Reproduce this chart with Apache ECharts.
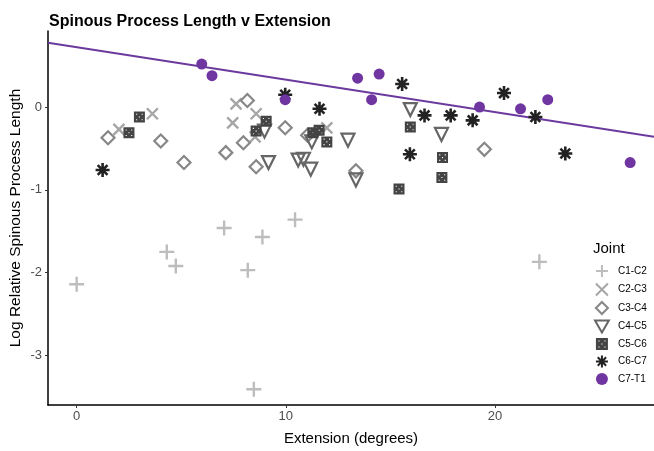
<!DOCTYPE html>
<html>
<head>
<meta charset="utf-8">
<script src="https://cdn.jsdelivr.net/npm/echarts@6/dist/echarts.min.js"></script>
<style>
  html, body { margin: 0; padding: 0; background: #fff; }
  #main { width: 654px; height: 451px; }
</style>
</head>
<body>
<div id="main"></div>
<script>
// values: [extension, log relative length]
var c1c2 = [[0, -2.14], [4.31, -1.75], [4.74, -1.92], [7.05, -1.46], [8.18, -1.97],
  [8.88, -1.57], [10.44, -1.36], [8.47, -3.41], [22.12, -1.87]];
var c2c3 = [[2.02, -0.27], [3.62, -0.08], [7.62, 0.04], [7.46, -0.19], [8.58, -0.08],
  [8.53, -0.36], [11.96, -0.25]];
var c3c4 = [[1.5, -0.37], [4.02, -0.41], [5.13, -0.67], [7.13, -0.55], [7.97, -0.43],
  [8.16, 0.08], [8.58, -0.72], [9.97, -0.25], [11.04, -0.34], [13.35, -0.77], [19.49, -0.51]];
var c4c5 = [[9.17, -0.67], [8.98, -0.29], [10.59, -0.64], [10.84, -0.63], [11.19, -0.75],
  [11.24, -0.42], [12.97, -0.4], [13.35, -0.88], [15.95, -0.03], [17.44, -0.33]];
var c5c6 = [[3.0, -0.12], [2.5, -0.31], [9.06, -0.17], [8.58, -0.29], [11.29, -0.31],
  [11.59, -0.28], [11.96, -0.42], [15.95, -0.24], [17.49, -0.61], [17.46, -0.85], [15.41, -0.99]];
var c6c7 = [[1.24, -0.76], [9.97, 0.15], [11.61, -0.02], [15.56, 0.28], [16.63, -0.1],
  [17.88, -0.1], [18.93, -0.16], [20.43, 0.17], [21.93, -0.12], [15.93, -0.57], [23.36, -0.56]];
var c7t1 = [[5.98, 0.52], [6.47, 0.38], [9.97, 0.09], [13.43, 0.35], [14.46, 0.4],
  [14.1, 0.09], [19.26, 0.0], [21.22, -0.02], [22.52, 0.09], [26.46, -0.67]];

var fitIntercept = 0.725;
var fitSlope = -0.0393;

var xTicks = [0, 10, 20];
var yTicks = [-3, -2, -1, 0];
var xMin = -1.37, xMax = 27.6;
var yMin = -3.6, yMax = 0.92;

var fontFam = '"Liberation Sans", Arial, sans-serif';

var fitLine = [[xMin, fitIntercept + fitSlope * xMin], [xMax, fitIntercept + fitSlope * xMax]];

function outlined(name, data, symbol, size, color, width) {
  return {
    name: name, type: 'scatter', data: data, symbol: symbol, symbolSize: size, z: 3,
    itemStyle: { color: 'rgba(0,0,0,0)', borderColor: color, borderWidth: width, opacity: 1 }
  };
}

var squareDots = 'path://M0,0L10,0L10,10L0,10Z' +
  'M2,2L2,3L3,3L3,2Z M7,2L7,3L8,3L8,2Z M4.5,4.5L4.5,5.5L5.5,5.5L5.5,4.5Z' +
  'M2,7L2,8L3,8L3,7Z M7,7L7,8L8,8L8,7Z';

var myChart = echarts.init(document.getElementById('main'));

var option = {
  animation: false,
  backgroundColor: '#fff',
  title: {
    text: 'Spinous Process Length v Extension',
    left: 44, top: 9,
    textStyle: { fontFamily: fontFam, fontSize: 16, fontWeight: 'bold', color: '#000' }
  },
  grid: { left: 48, right: 0, top: 31, bottom: 46, outerBoundsMode: 'none', containLabel: false },
  legend: {
    orient: 'vertical',
    left: 589, top: 259,
    itemWidth: 22, itemHeight: 12, itemGap: 4.5,
    textStyle: { fontFamily: fontFam, fontSize: 10, lineHeight: 12, color: '#000' },
    data: ['C1-C2', 'C2-C3', 'C3-C4', 'C4-C5', 'C5-C6', 'C6-C7', 'C7-T1']
  },
  graphic: [{
    type: 'text', left: 593, top: 241,
    style: { text: 'Joint', fontFamily: fontFam, fontSize: 15, fill: '#000' }
  }],
  xAxis: {
    type: 'value', min: xMin, max: xMax,
    name: 'Extension (degrees)', nameLocation: 'middle', nameGap: 26,
    nameMoveOverlap: false,
    nameTextStyle: { fontFamily: fontFam, fontSize: 15, color: '#000' },
    splitLine: { show: false },
    axisLine: { show: true, onZero: false, lineStyle: { color: '#000', width: 1.5 } },
    axisTick: { show: true, length: 3, customValues: xTicks, lineStyle: { color: '#333' } },
    axisLabel: { customValues: xTicks, fontFamily: fontFam, fontSize: 13, color: '#4d4d4d', margin: 5 }
  },
  yAxis: {
    type: 'value', min: yMin, max: yMax,
    name: 'Log Relative Spinous Process Length', nameLocation: 'middle', nameGap: 24,
    nameMoveOverlap: false,
    nameTextStyle: { fontFamily: fontFam, fontSize: 15.5, color: '#000' },
    splitLine: { show: false },
    axisLine: { show: true, onZero: false, lineStyle: { color: '#000', width: 1.5 } },
    axisTick: { show: true, length: 3, customValues: yTicks, lineStyle: { color: '#333' } },
    axisLabel: { customValues: yTicks, fontFamily: fontFam, fontSize: 13, color: '#4d4d4d', margin: 6 }
  },
  series: [
    {
      name: 'fit', type: 'line', data: fitLine, symbol: 'none', z: 2,
      lineStyle: { color: '#6b3a9e', width: 2 }, silent: true
    },
    outlined('C1-C2', c1c2, 'path://M0,5L10,5M5,0L5,10', 15, '#bdbdbd', 2.4),
    outlined('C2-C3', c2c3, 'path://M0,0L10,10M10,0L0,10', 11, '#a6a6a6', 2.4),
    outlined('C3-C4', c3c4, 'path://M5,0L10,5L5,10L0,5Z', 13, '#878787', 2.2),
    outlined('C4-C5', c4c5, 'path://M0,0L10,0L5,8.66Z', 13, '#666666', 2.2),
    {
      name: 'C5-C6', type: 'scatter', data: c5c6, symbol: squareDots, symbolSize: 11, z: 3,
      itemStyle: { color: '#444444', opacity: 1 }
    },
    outlined('C6-C7', c6c7, 'path://M5,0L5,10M0,5L10,5M1.5,1.5L8.5,8.5M8.5,1.5L1.5,8.5', 14, '#222222', 2.6),
    {
      name: 'C7-T1', type: 'scatter', data: c7t1, symbol: 'circle', symbolSize: 11, z: 3,
      itemStyle: { color: '#6f35a0', opacity: 1 }
    }
  ]
};

myChart.setOption(option);
</script>
</body>
</html>
